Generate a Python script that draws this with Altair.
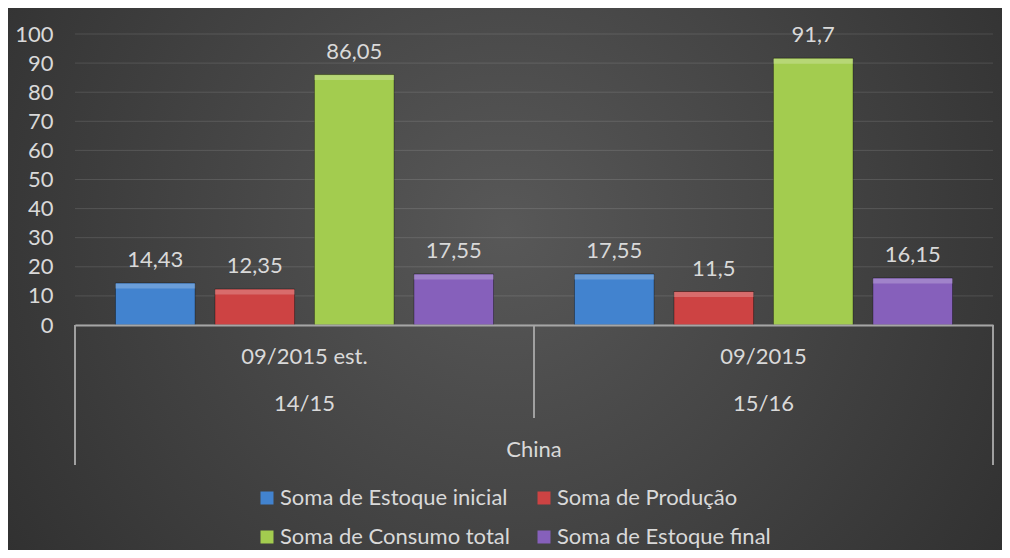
import altair as alt
import pandas as pd

groups = ["09/2015 est.", "09/2015"]
safras = ["14/15", "15/16"]
country = ["China"]
series = ["Soma de Estoque inicial", "Soma de Produção",
          "Soma de Consumo total", "Soma de Estoque final"]
estoque_inicial = [14.43, 17.55]
producao = [12.35, 11.5]
consumo_total = [86.05, 91.7]
estoque_final = [17.55, 16.15]
colors = ["#4283cf", "#cd4343", "#a3cc4f", "#8660bb"]
y_ticks = list(range(0, 101, 10))

rows = []
for gi, g in enumerate(groups):
    for s, vals in zip(series, [estoque_inicial, producao, consumo_total, estoque_final]):
        v = vals[gi]
        rows.append({"grupo": g, "serie": s, "valor": v,
                     "rotulo": f"{v:g}".replace(".", ",")})
df = pd.DataFrame(rows)
cat_df = pd.DataFrame({"grupo": groups, "safra": safras})
grid_df = pd.DataFrame({"valor": y_ticks})

FONT = "Lato"
TXT = "#d9d9d9"
W, H = 918, 291

x_axis = alt.Axis(labels=False, ticks=False, title=None, grid=False,
                  domainColor="#a6a6a6", domainWidth=2, zindex=1)
x_scale = alt.Scale(domain=groups, paddingInner=0, paddingOuter=0)
y_axis = alt.Axis(values=y_ticks, title=None, domain=False, ticks=False, grid=False,
                  labelPadding=22, labelFont=FONT, labelFontSize=22,
                  labelColor=TXT, zindex=1)
y_scale = alt.Scale(domain=[0, 100], nice=False, zero=True)

X = alt.X("grupo:N", scale=x_scale, axis=x_axis)
XO = alt.XOffset("serie:N", scale=alt.Scale(domain=series, paddingInner=0.2, paddingOuter=0.407))
Y = alt.Y("valor:Q", scale=y_scale, axis=y_axis)

gradient = {
    "gradient": "radial",
    "stops": [{"offset": 0, "color": "#585858"}, {"offset": 1, "color": "#272727"}],
    "x1": 0.5, "y1": 0.45, "r1": 0, "x2": 0.5, "y2": 0.45, "r2": 0.75,
}
bg = alt.Chart(pd.DataFrame({"a": [0]})).mark_rect(fill=gradient).encode(
    x=alt.value(-67), x2=alt.value(W + 9), y=alt.value(-26), y2=alt.value(H + 225)
)

grid = alt.Chart(grid_df).mark_rule(color="#ffffff", opacity=0.12, strokeWidth=1).encode(
    y=Y, x=alt.value(0), x2=alt.value(W)
)

bars = alt.Chart(df).mark_bar(stroke="#000000", strokeOpacity=0.35, strokeWidth=1).encode(
    x=X, xOffset=XO, y=Y,
    color=alt.Color("serie:N", scale=alt.Scale(domain=series, range=colors),
                    legend=alt.Legend(orient="none", legendX=181, legendY=453, columns=2,
                                      direction="horizontal",
                                      title=None, symbolType="square", symbolSize=169,
                                      labelFont=FONT, labelFontSize=22, labelColor=TXT,
                                      columnPadding=23, rowPadding=17, labelOffset=2,
                                      labelLimit=0, symbolStrokeWidth=0, padding=0)),
)

bevel = alt.Chart(df).mark_tick(color="#ffffff", opacity=0.22, thickness=5, size=80, yOffset=3).encode(
    x=X, xOffset=XO, y=Y
)

labels = alt.Chart(df).mark_text(font=FONT, fontSize=22, color=TXT,
                                 baseline="alphabetic", dy=-16).encode(
    x=X, xOffset=XO, y=Y, text="rotulo:N"
)

sep_left = alt.Chart(pd.DataFrame({"grupo": [groups[0]]})).mark_rule(
    color="#a0a0a0", strokeWidth=2).encode(
    x=alt.X("grupo:N", bandPosition=0, scale=x_scale, axis=x_axis),
    y=alt.value(H), y2=alt.value(H + 140)
)
sep_mid = alt.Chart(pd.DataFrame({"grupo": [groups[1]]})).mark_rule(
    color="#a0a0a0", strokeWidth=2).encode(
    x=alt.X("grupo:N", bandPosition=0, scale=x_scale, axis=x_axis),
    y=alt.value(H), y2=alt.value(H + 93)
)
sep_right = alt.Chart(pd.DataFrame({"grupo": [groups[1]]})).mark_rule(
    color="#a0a0a0", strokeWidth=2).encode(
    x=alt.X("grupo:N", bandPosition=1, scale=x_scale, axis=x_axis),
    y=alt.value(H), y2=alt.value(H + 140)
)

cat1 = alt.Chart(cat_df).mark_text(font=FONT, fontSize=22, color=TXT, baseline="middle").encode(
    x=X, y=alt.value(H + 32), text="grupo:N"
)
cat2 = alt.Chart(cat_df).mark_text(font=FONT, fontSize=22, color=TXT, baseline="middle").encode(
    x=X, y=alt.value(H + 79), text="safra:N"
)
cat3 = alt.Chart(pd.DataFrame({"pais": country})).mark_text(
    font=FONT, fontSize=22, color=TXT, baseline="middle").encode(
    x=alt.value(W / 2), y=alt.value(H + 125), text="pais:N"
)

chart = alt.layer(bg, grid, bars, bevel, labels, sep_left, sep_mid, sep_right, cat1, cat2, cat3).properties(
    width=W, height=H,
    autosize=alt.AutoSizeParams(type="none"),
    padding={"left": 67, "top": 26, "right": 9, "bottom": 225},
).configure(background="#2a2a2a").configure_view(stroke=None)

chart.save("out.html", embed_options={"renderer": "svg", "actions": False})
